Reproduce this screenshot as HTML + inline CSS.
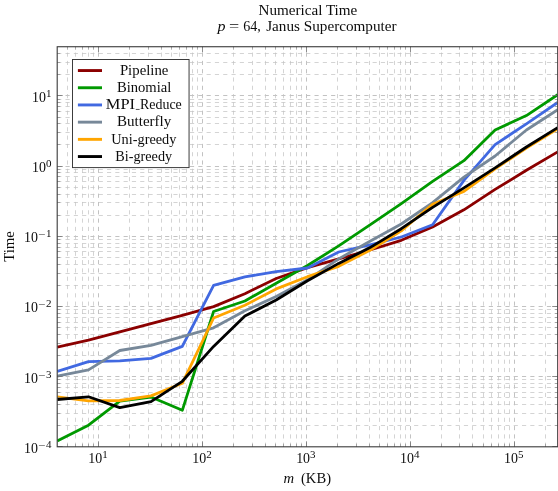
<!DOCTYPE html><html><head><meta charset="utf-8"><title>Numerical Time</title>
<style>html,body{margin:0;padding:0;background:#fff;}body{width:558px;height:491px;overflow:hidden;}svg{display:block;will-change:transform;}text{font-family:"Liberation Serif",serif;fill:#0c0c0c;}</style></head><body>
<svg width="558" height="491" viewBox="0 0 558 491">
<rect x="0" y="0" width="558" height="491" fill="#fff"/>
<defs><clipPath id="c"><rect x="57.20" y="46.73" width="500.50" height="400.07"/></clipPath></defs>
<path d="M67.50 446.80V46.73M75.50 446.80V46.73M82.50 446.80V46.73M88.50 446.80V46.73M93.50 446.80V46.73M129.50 446.80V46.73M148.50 446.80V46.73M161.50 446.80V46.73M171.50 446.80V46.73M179.50 446.80V46.73M186.50 446.80V46.73M192.50 446.80V46.73M197.50 446.80V46.73M233.50 446.80V46.73M252.50 446.80V46.73M265.50 446.80V46.73M275.50 446.80V46.73M283.50 446.80V46.73M290.50 446.80V46.73M296.50 446.80V46.73M301.50 446.80V46.73M337.50 446.80V46.73M356.50 446.80V46.73M369.50 446.80V46.73M379.50 446.80V46.73M387.50 446.80V46.73M394.50 446.80V46.73M400.50 446.80V46.73M405.50 446.80V46.73M441.50 446.80V46.73M459.50 446.80V46.73M472.50 446.80V46.73M483.50 446.80V46.73M491.50 446.80V46.73M498.50 446.80V46.73M504.50 446.80V46.73M509.50 446.80V46.73M545.50 446.80V46.73M57.20 425.50H557.70M57.20 413.50H557.70M57.20 404.50H557.70M57.20 397.50H557.70M57.20 392.50H557.70M57.20 387.50H557.70M57.20 383.50H557.70M57.20 379.50H557.70M57.20 355.50H557.70M57.20 343.50H557.70M57.20 334.50H557.70M57.20 327.50H557.70M57.20 322.50H557.70M57.20 317.50H557.70M57.20 313.50H557.70M57.20 309.50H557.70M57.20 285.50H557.70M57.20 273.50H557.70M57.20 264.50H557.70M57.20 257.50H557.70M57.20 251.50H557.70M57.20 247.50H557.70M57.20 243.50H557.70M57.20 239.50H557.70M57.20 215.50H557.70M57.20 202.50H557.70M57.20 194.50H557.70M57.20 187.50H557.70M57.20 181.50H557.70M57.20 176.50H557.70M57.20 172.50H557.70M57.20 169.50H557.70M57.20 144.50H557.70M57.20 132.50H557.70M57.20 123.50H557.70M57.20 117.50H557.70M57.20 111.50H557.70M57.20 106.50H557.70M57.20 102.50H557.70M57.20 99.50H557.70M57.20 74.50H557.70M57.20 62.50H557.70M57.20 53.50H557.70" fill="none" stroke="#c2c2c2" stroke-width="0.7" stroke-dasharray="4.15 4.15"/>
<path d="M98.50 446.80V46.73M202.50 446.80V46.73M306.50 446.80V46.73M410.50 446.80V46.73M514.50 446.80V46.73M57.20 376.50H557.70M57.20 306.50H557.70M57.20 236.50H557.70M57.20 166.50H557.70M57.20 95.50H557.70" fill="none" stroke="#c2c2c2" stroke-width="1.0" stroke-dasharray="4.15 4.15"/>
<g clip-path="url(#c)" fill="none" stroke-width="2.8" stroke-linejoin="round" stroke-linecap="butt">
<polyline points="57.2,347.1 88.5,340.1 119.8,331.9 151.0,323.7 182.3,315.4 213.6,306.6 244.9,293.7 276.2,278.5 307.5,267.6 338.7,258.9 370.0,250.0 401.3,240.3 432.6,226.9 463.9,209.8 495.1,189.4 526.4,170.3 557.7,151.9" stroke="#8b0000"/>
<polyline points="57.2,441.0 88.5,425.2 119.8,401.2 151.0,397.0 182.3,410.3 213.6,311.5 244.9,301.0 276.2,283.3 307.5,265.5 338.7,245.9 370.0,224.9 401.3,203.6 432.6,181.4 463.9,160.7 495.1,129.9 526.4,115.6 557.7,94.7" stroke="#009900"/>
<polyline points="57.2,371.5 88.5,361.7 119.8,360.8 151.0,358.4 182.3,346.4 213.6,285.4 244.9,276.9 276.2,271.6 307.5,268.0 338.7,252.0 370.0,244.8 401.3,237.0 432.6,224.7 463.9,180.4 495.1,144.6 526.4,123.8 557.7,102.4" stroke="#4169e1"/>
<polyline points="57.2,376.2 88.5,369.9 119.8,350.5 151.0,345.3 182.3,336.6 213.6,327.8 244.9,310.8 276.2,296.5 307.5,279.8 338.7,258.9 370.0,241.2 401.3,224.0 432.6,202.6 463.9,177.1 495.1,156.0 526.4,130.0 557.7,109.8" stroke="#778899"/>
<polyline points="57.2,396.8 88.5,400.8 119.8,400.5 151.0,395.9 182.3,383.3 213.6,318.0 244.9,305.3 276.2,288.9 307.5,276.7 338.7,266.3 370.0,250.2 401.3,230.9 432.6,204.3 463.9,191.4 495.1,168.8 526.4,148.0 557.7,128.8" stroke="#ffa500"/>
<polyline points="57.2,399.5 88.5,396.8 119.8,407.6 151.0,401.7 182.3,381.3 213.6,346.4 244.9,316.0 276.2,300.0 307.5,280.7 338.7,263.4 370.0,247.6 401.3,228.7 432.6,207.4 463.9,187.9 495.1,167.9 526.4,147.0 557.7,127.6" stroke="#000000"/>
</g>
<path d="M98.50 446.80v-5.50 M98.50 46.73v5.50M202.50 446.80v-5.50 M202.50 46.73v5.50M306.50 446.80v-5.50 M306.50 46.73v5.50M410.50 446.80v-5.50 M410.50 46.73v5.50M514.50 446.80v-5.50 M514.50 46.73v5.50M57.20 446.50h5.50 M557.70 446.50h-5.50M57.20 376.50h5.50 M557.70 376.50h-5.50M57.20 306.50h5.50 M557.70 306.50h-5.50M57.20 236.50h5.50 M557.70 236.50h-5.50M57.20 166.50h5.50 M557.70 166.50h-5.50M57.20 95.50h5.50 M557.70 95.50h-5.50" fill="none" stroke="#707070" stroke-width="0.8"/>
<path d="M67.50 446.80v-3.00 M67.50 46.73v3.00M75.50 446.80v-3.00 M75.50 46.73v3.00M82.50 446.80v-3.00 M82.50 46.73v3.00M88.50 446.80v-3.00 M88.50 46.73v3.00M93.50 446.80v-3.00 M93.50 46.73v3.00M129.50 446.80v-3.00 M129.50 46.73v3.00M148.50 446.80v-3.00 M148.50 46.73v3.00M161.50 446.80v-3.00 M161.50 46.73v3.00M171.50 446.80v-3.00 M171.50 46.73v3.00M179.50 446.80v-3.00 M179.50 46.73v3.00M186.50 446.80v-3.00 M186.50 46.73v3.00M192.50 446.80v-3.00 M192.50 46.73v3.00M197.50 446.80v-3.00 M197.50 46.73v3.00M233.50 446.80v-3.00 M233.50 46.73v3.00M252.50 446.80v-3.00 M252.50 46.73v3.00M265.50 446.80v-3.00 M265.50 46.73v3.00M275.50 446.80v-3.00 M275.50 46.73v3.00M283.50 446.80v-3.00 M283.50 46.73v3.00M290.50 446.80v-3.00 M290.50 46.73v3.00M296.50 446.80v-3.00 M296.50 46.73v3.00M301.50 446.80v-3.00 M301.50 46.73v3.00M337.50 446.80v-3.00 M337.50 46.73v3.00M356.50 446.80v-3.00 M356.50 46.73v3.00M369.50 446.80v-3.00 M369.50 46.73v3.00M379.50 446.80v-3.00 M379.50 46.73v3.00M387.50 446.80v-3.00 M387.50 46.73v3.00M394.50 446.80v-3.00 M394.50 46.73v3.00M400.50 446.80v-3.00 M400.50 46.73v3.00M405.50 446.80v-3.00 M405.50 46.73v3.00M441.50 446.80v-3.00 M441.50 46.73v3.00M459.50 446.80v-3.00 M459.50 46.73v3.00M472.50 446.80v-3.00 M472.50 46.73v3.00M483.50 446.80v-3.00 M483.50 46.73v3.00M491.50 446.80v-3.00 M491.50 46.73v3.00M498.50 446.80v-3.00 M498.50 46.73v3.00M504.50 446.80v-3.00 M504.50 46.73v3.00M509.50 446.80v-3.00 M509.50 46.73v3.00M545.50 446.80v-3.00 M545.50 46.73v3.00M57.20 425.50h3.00 M557.70 425.50h-3.00M57.20 413.50h3.00 M557.70 413.50h-3.00M57.20 404.50h3.00 M557.70 404.50h-3.00M57.20 397.50h3.00 M557.70 397.50h-3.00M57.20 392.50h3.00 M557.70 392.50h-3.00M57.20 387.50h3.00 M557.70 387.50h-3.00M57.20 383.50h3.00 M557.70 383.50h-3.00M57.20 379.50h3.00 M557.70 379.50h-3.00M57.20 355.50h3.00 M557.70 355.50h-3.00M57.20 343.50h3.00 M557.70 343.50h-3.00M57.20 334.50h3.00 M557.70 334.50h-3.00M57.20 327.50h3.00 M557.70 327.50h-3.00M57.20 322.50h3.00 M557.70 322.50h-3.00M57.20 317.50h3.00 M557.70 317.50h-3.00M57.20 313.50h3.00 M557.70 313.50h-3.00M57.20 309.50h3.00 M557.70 309.50h-3.00M57.20 285.50h3.00 M557.70 285.50h-3.00M57.20 273.50h3.00 M557.70 273.50h-3.00M57.20 264.50h3.00 M557.70 264.50h-3.00M57.20 257.50h3.00 M557.70 257.50h-3.00M57.20 251.50h3.00 M557.70 251.50h-3.00M57.20 247.50h3.00 M557.70 247.50h-3.00M57.20 243.50h3.00 M557.70 243.50h-3.00M57.20 239.50h3.00 M557.70 239.50h-3.00M57.20 215.50h3.00 M557.70 215.50h-3.00M57.20 202.50h3.00 M557.70 202.50h-3.00M57.20 194.50h3.00 M557.70 194.50h-3.00M57.20 187.50h3.00 M557.70 187.50h-3.00M57.20 181.50h3.00 M557.70 181.50h-3.00M57.20 176.50h3.00 M557.70 176.50h-3.00M57.20 172.50h3.00 M557.70 172.50h-3.00M57.20 169.50h3.00 M557.70 169.50h-3.00M57.20 144.50h3.00 M557.70 144.50h-3.00M57.20 132.50h3.00 M557.70 132.50h-3.00M57.20 123.50h3.00 M557.70 123.50h-3.00M57.20 117.50h3.00 M557.70 117.50h-3.00M57.20 111.50h3.00 M557.70 111.50h-3.00M57.20 106.50h3.00 M557.70 106.50h-3.00M57.20 102.50h3.00 M557.70 102.50h-3.00M57.20 99.50h3.00 M557.70 99.50h-3.00M57.20 74.50h3.00 M557.70 74.50h-3.00M57.20 62.50h3.00 M557.70 62.50h-3.00M57.20 53.50h3.00 M557.70 53.50h-3.00" fill="none" stroke="#808080" stroke-width="0.6"/>
<rect x="57.20" y="46.73" width="500.50" height="400.07" fill="none" stroke="#3a3a3a" stroke-width="1.1"/>
<rect x="72.50" y="59.50" width="116.55" height="108.10" fill="#fff" stroke="#333" stroke-width="0.95"/>
<path d="M77.9 70.55H102.0" stroke="#8b0000" stroke-width="2.9" fill="none"/>
<text x="119.90" y="74.75" font-size="14" textLength="48.50" lengthAdjust="spacingAndGlyphs">Pipeline</text>
<path d="M77.9 87.75H102.0" stroke="#009900" stroke-width="2.9" fill="none"/>
<text x="117.00" y="91.95" font-size="14" textLength="54.30" lengthAdjust="spacingAndGlyphs">Binomial</text>
<path d="M77.9 104.95H102.0" stroke="#4169e1" stroke-width="2.9" fill="none"/>
<text x="105.80" y="109.15" font-size="14" textLength="29.20" lengthAdjust="spacingAndGlyphs">MPI</text>
<rect x="135.8" y="108.95" width="3.8" height="0.7" fill="#0c0c0c"/>
<text x="140.00" y="109.15" font-size="14" textLength="41.80" lengthAdjust="spacingAndGlyphs">Reduce</text>
<path d="M77.9 122.15H102.0" stroke="#778899" stroke-width="2.9" fill="none"/>
<text x="117.00" y="126.35" font-size="14" textLength="54.30" lengthAdjust="spacingAndGlyphs">Butterfly</text>
<path d="M77.9 139.35H102.0" stroke="#ffa500" stroke-width="2.9" fill="none"/>
<text x="111.30" y="143.55" font-size="14" textLength="65.10" lengthAdjust="spacingAndGlyphs">Uni-greedy</text>
<path d="M77.9 156.55H102.0" stroke="#000000" stroke-width="2.9" fill="none"/>
<text x="115.30" y="160.75" font-size="14" textLength="56.80" lengthAdjust="spacingAndGlyphs">Bi-greedy</text>
<text x="88.35" y="463.00" font-size="13.7" textLength="13.9" lengthAdjust="spacingAndGlyphs">10</text>
<text x="102.25" y="458.10" font-size="9.5" textLength="5.5" lengthAdjust="spacingAndGlyphs">1</text>
<text x="192.27" y="463.00" font-size="13.7" textLength="13.9" lengthAdjust="spacingAndGlyphs">10</text>
<text x="206.17" y="458.10" font-size="9.5" textLength="5.5" lengthAdjust="spacingAndGlyphs">2</text>
<text x="296.18" y="463.00" font-size="13.7" textLength="13.9" lengthAdjust="spacingAndGlyphs">10</text>
<text x="310.08" y="458.10" font-size="9.5" textLength="5.5" lengthAdjust="spacingAndGlyphs">3</text>
<text x="400.09" y="463.00" font-size="13.7" textLength="13.9" lengthAdjust="spacingAndGlyphs">10</text>
<text x="413.99" y="458.10" font-size="9.5" textLength="5.5" lengthAdjust="spacingAndGlyphs">4</text>
<text x="504.01" y="463.00" font-size="13.7" textLength="13.9" lengthAdjust="spacingAndGlyphs">10</text>
<text x="517.91" y="458.10" font-size="9.5" textLength="5.5" lengthAdjust="spacingAndGlyphs">5</text>
<text x="24.00" y="452.75" font-size="13.7" textLength="13.9" lengthAdjust="spacingAndGlyphs">10</text>
<text x="38.3" y="448.75" font-size="9.5" textLength="7.2" lengthAdjust="spacingAndGlyphs">−</text>
<text x="45.90" y="447.85" font-size="9.5" textLength="5.5" lengthAdjust="spacingAndGlyphs">4</text>
<text x="24.00" y="382.55" font-size="13.7" textLength="13.9" lengthAdjust="spacingAndGlyphs">10</text>
<text x="38.3" y="378.55" font-size="9.5" textLength="7.2" lengthAdjust="spacingAndGlyphs">−</text>
<text x="45.90" y="377.65" font-size="9.5" textLength="5.5" lengthAdjust="spacingAndGlyphs">3</text>
<text x="24.00" y="312.35" font-size="13.7" textLength="13.9" lengthAdjust="spacingAndGlyphs">10</text>
<text x="38.3" y="308.35" font-size="9.5" textLength="7.2" lengthAdjust="spacingAndGlyphs">−</text>
<text x="45.90" y="307.45" font-size="9.5" textLength="5.5" lengthAdjust="spacingAndGlyphs">2</text>
<text x="24.00" y="242.15" font-size="13.7" textLength="13.9" lengthAdjust="spacingAndGlyphs">10</text>
<text x="38.3" y="238.15" font-size="9.5" textLength="7.2" lengthAdjust="spacingAndGlyphs">−</text>
<text x="45.90" y="237.25" font-size="9.5" textLength="5.5" lengthAdjust="spacingAndGlyphs">1</text>
<text x="32.00" y="171.95" font-size="13.7" textLength="13.9" lengthAdjust="spacingAndGlyphs">10</text>
<text x="45.90" y="167.05" font-size="9.5" textLength="5.5" lengthAdjust="spacingAndGlyphs">0</text>
<text x="32.00" y="101.75" font-size="13.7" textLength="13.9" lengthAdjust="spacingAndGlyphs">10</text>
<text x="45.90" y="96.85" font-size="9.5" textLength="5.5" lengthAdjust="spacingAndGlyphs">1</text>
<text x="283.40" y="482.70" font-size="14" textLength="10.60" lengthAdjust="spacingAndGlyphs" font-style="italic">m</text>
<text x="301.00" y="482.70" font-size="14" textLength="30.00" lengthAdjust="spacingAndGlyphs">(KB)</text>
<g transform="translate(14.0,261.8) rotate(-90)"><text x="0.00" y="0.00" font-size="14" textLength="30.70" lengthAdjust="spacingAndGlyphs">Time</text></g>
<text x="258.50" y="14.50" font-size="14" textLength="98.80" lengthAdjust="spacingAndGlyphs">Numerical Time</text>
<text x="217.60" y="30.50" font-size="14" textLength="8.00" lengthAdjust="spacingAndGlyphs" font-style="italic">p</text>
<text x="229.00" y="30.50" font-size="14" textLength="10.20" lengthAdjust="spacingAndGlyphs">=</text>
<text x="243.20" y="30.50" font-size="14" textLength="17.60" lengthAdjust="spacingAndGlyphs">64,</text>
<text x="266.20" y="30.50" font-size="14" textLength="130.40" lengthAdjust="spacingAndGlyphs">Janus Supercomputer</text>
</svg></body></html>
